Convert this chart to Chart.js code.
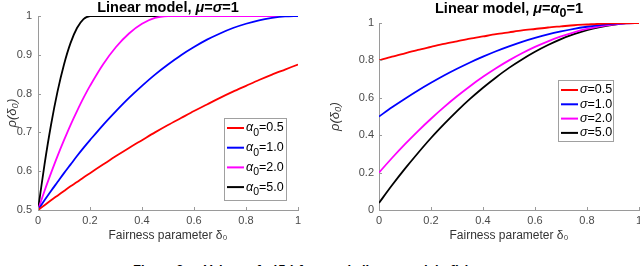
<!DOCTYPE html>
<html>
<head>
<meta charset="utf-8">
<script src="https://cdn.jsdelivr.net/npm/chart.js@4"></script>
<style>
  html, body { margin: 0; padding: 0; background: #fff; width: 640px; height: 266px; overflow: hidden; }
  .box { position: absolute; top: 0; height: 250px; }
  #caption { position: absolute; left: 133px; top: 262px; font: bold 13px "Liberation Sans", Arial, sans-serif; color: #000; white-space: nowrap; }
</style>
</head>
<body>
<div class="box" style="left:0;width:310px"><canvas id="left"></canvas></div>
<div class="box" style="left:320px;width:320px"><canvas id="right"></canvas></div>
<div id="caption">Figure 2 — Values of <i>ρ</i>(<i>δ</i>₀) for purely linear models <i>f</i>(<i>x</i>) = <i>αx</i></div>
<script>
// abscisses (paramètre delta0)
const deltaLeft = [0, 0.025, 0.05, 0.075, 0.1, 0.125, 0.15, 0.175, 0.2, 0.25, 0.3, 0.35, 0.4,
  0.45, 0.5, 0.55, 0.6, 0.65, 0.7, 0.75, 0.8, 0.85, 0.9, 0.95, 1];
const deltaRight = [0, 0.05, 0.1, 0.15, 0.2, 0.25, 0.3, 0.35, 0.4, 0.45, 0.5, 0.55, 0.6, 0.65,
  0.7, 0.75, 0.8, 0.85, 0.9, 0.95, 1];

// gauche : mu = sigma = 1, alpha0 variable
const alphaLabels = ["0.5", "1.0", "2.0", "5.0"];
const rhoAlpha05 = [0.5, 0.512, 0.525, 0.537, 0.549, 0.561, 0.572, 0.584, 0.595, 0.617, 0.639,
  0.66, 0.68, 0.7, 0.719, 0.737, 0.755, 0.772, 0.789, 0.805, 0.82, 0.835, 0.849, 0.862, 0.875];
const rhoAlpha1 = [0.5, 0.525, 0.549, 0.572, 0.595, 0.617, 0.639, 0.66, 0.68, 0.719, 0.755,
  0.789, 0.82, 0.849, 0.875, 0.899, 0.92, 0.939, 0.955, 0.969, 0.98, 0.989, 0.995, 0.999, 1];
const rhoAlpha2 = [0.5, 0.549, 0.595, 0.639, 0.68, 0.719, 0.755, 0.789, 0.82, 0.875, 0.92,
  0.955, 0.98, 0.995, 1, 1, 1, 1, 1, 1, 1, 1, 1, 1, 1];
const rhoAlpha5 = [0.5, 0.617, 0.719, 0.805, 0.875, 0.93, 0.969, 0.992, 1, 1, 1,
  1, 1, 1, 1, 1, 1, 1, 1, 1, 1, 1, 1, 1, 1];

// droite : mu = alpha0 = 1, sigma variable
const sigmaLabels = ["0.5", "1.0", "2.0", "5.0"];
const rhoSigma05 = [0.8, 0.82, 0.838, 0.856, 0.872, 0.888, 0.902, 0.916, 0.928, 0.94, 0.95,
  0.96, 0.968, 0.976, 0.982, 0.988, 0.992, 0.996, 0.998, 0.9995, 1];
const rhoSigma1 = [0.5, 0.549, 0.595, 0.639, 0.68, 0.719, 0.755, 0.789, 0.82, 0.849, 0.875,
  0.899, 0.92, 0.939, 0.955, 0.969, 0.98, 0.989, 0.995, 0.999, 1];
const rhoSigma2 = [0.2, 0.278, 0.352, 0.422, 0.488, 0.55, 0.608, 0.662, 0.712, 0.758, 0.8,
  0.838, 0.872, 0.902, 0.928, 0.95, 0.968, 0.982, 0.992, 0.998, 1];
const rhoSigma5 = [0.038, 0.132, 0.221, 0.305, 0.385, 0.459, 0.529, 0.594, 0.654, 0.709, 0.76,
  0.805, 0.846, 0.882, 0.914, 0.94, 0.962, 0.978, 0.99, 0.998, 1];

const colors = ["#ff0000", "#0000ff", "#ff00ff", "#000000"];
const FONT = "'Liberation Sans', Arial, sans-serif";
const AXIS = "#9a9a9a";
const TICKTXT = "#4a4a4a";

function makeDatasets(xs, series) {
  return series.map((ys, i) => ({
    data: xs.map((x, j) => ({ x: x, y: ys[j] })),
    borderColor: colors[i],
    borderWidth: 1.8,
    pointRadius: 0,
    tension: 0.3,
    fill: false,
  }));
}

// texte avec morceaux en italique / indice
function drawParts(ctx, parts, x, y, size, weight) {
  let tx = x;
  parts.forEach((p) => {
    const sz = p.sub ? size - 2 : size;
    ctx.font = (p.it ? "italic " : "") + weight + " " + sz + "px " + FONT;
    ctx.fillText(p.t, tx, p.sub ? y + 5 : y);
    tx += ctx.measureText(p.t).width;
  });
  return tx - x;
}

// titre centré sur la zone du tracé, graduations intérieures, légende encadrée
const matlabPlugin = {
  id: "matlab",
  afterDraw(chart, args, opts) {
    const ctx = chart.ctx;
    const xs = chart.scales.x, ys = chart.scales.y;
    const area = chart.chartArea;
    ctx.save();
    ctx.strokeStyle = AXIS;
    ctx.lineWidth = 1;
    ctx.beginPath();
    xs.ticks.forEach((t) => {
      const px = Math.round(xs.getPixelForValue(t.value)) + 0.5;
      ctx.moveTo(px, area.bottom);
      ctx.lineTo(px, area.bottom - 3);
    });
    ys.ticks.forEach((t) => {
      const py = Math.round(ys.getPixelForValue(t.value)) + 0.5;
      ctx.moveTo(area.left, py);
      ctx.lineTo(area.left + 3, py);
    });
    ctx.stroke();

    // titre
    ctx.textBaseline = "middle";
    ctx.textAlign = "left";
    ctx.fillStyle = "#000";
    ctx.globalAlpha = 0;
    const w = drawParts(ctx, opts.title, 0, 0, opts.titleSize, "bold");
    ctx.globalAlpha = 1;
    drawParts(ctx, opts.title, (area.left + area.right) / 2 - w / 2, opts.titleY, opts.titleSize, "bold");

    // légende
    const lg = opts.legend;
    const bx = area.right - lg.right - lg.width;
    const by = lg.top != null ? area.top + lg.top : area.bottom - lg.bottom - lg.height;
    ctx.fillStyle = "#fff";
    ctx.fillRect(bx, by, lg.width, lg.height);
    ctx.strokeStyle = "#a0a0a0";
    ctx.strokeRect(Math.round(bx) + 0.5, Math.round(by) + 0.5, lg.width, lg.height);
    lg.items.forEach((label, i) => {
      const cy = by + lg.first + i * lg.step;
      ctx.strokeStyle = colors[i];
      ctx.lineWidth = 2;
      ctx.beginPath();
      ctx.moveTo(bx + 3, cy);
      ctx.lineTo(bx + 20, cy);
      ctx.stroke();
      ctx.fillStyle = "#000";
      const parts = [{ t: lg.symbol, it: true }];
      if (lg.sub) parts.push({ t: "0", sub: true });
      parts.push({ t: "=" + label });
      drawParts(ctx, parts, bx + 22, cy, 12.5, "normal");
    });
    ctx.restore();
  },
};

function makeChart(id, cfg) {
  return new Chart(document.getElementById(id), {
    type: "line",
    data: { datasets: makeDatasets(cfg.xs, cfg.series) },
    plugins: [matlabPlugin],
    options: {
      responsive: true,
      maintainAspectRatio: false,
      animation: false,
      layout: { padding: { left: 0, right: cfg.padRight, top: cfg.padTop, bottom: 0 } },
      plugins: {
        legend: { display: false },
        tooltip: { enabled: false },
        title: { display: false },
        matlab: { legend: cfg.legend, title: cfg.title, titleY: cfg.titleY, titleSize: cfg.titleSize },
      },
      scales: {
        x: {
          type: "linear",
          min: 0,
          max: 1,
          afterFit: (s) => { s.height = 40; s.paddingLeft = 0; s.paddingRight = 0; },
          ticks: {
            stepSize: 0.2,
            padding: 4,
            color: TICKTXT,
            font: { family: FONT, size: 11 },
            maxRotation: 0,
            callback: (v) => String(+v.toFixed(2)),
          },
          grid: { display: false, drawTicks: false },
          border: { display: true, color: AXIS, width: 1 },
          title: {
            display: true,
            text: "Fairness parameter δ₀",
            color: "#333",
            font: { family: FONT, size: 12 },
            padding: { top: 0, bottom: 7 },
          },
        },
        y: {
          min: cfg.yMin,
          max: 1,
          afterFit: (s) => { s.width = cfg.yWidth; s.paddingTop = 0; s.paddingBottom = 0; },
          ticks: {
            stepSize: cfg.yStep,
            padding: cfg.yTickPad,
            color: TICKTXT,
            font: { family: FONT, size: 11 },
            callback: (v) => String(+v.toFixed(2)),
          },
          grid: { display: false, drawTicks: false },
          border: { display: true, color: AXIS, width: 1 },
          title: {
            display: true,
            text: "ρ(δ₀)",
            color: "#333",
            font: { family: FONT, size: 13, style: "italic" },
            padding: { top: cfg.yTitlePad, bottom: 0 },
          },
        },
      },
    },
  });
}

makeChart("left", {
  xs: deltaLeft,
  series: [rhoAlpha05, rhoAlpha1, rhoAlpha2, rhoAlpha5],
  title: [{ t: "Linear model, " }, { t: "μ", it: true }, { t: "=" }, { t: "σ", it: true }, { t: "=1" }],
  titleSize: 14.5,
  titleY: 7.5,
  padTop: 16,
  padRight: 12,
  yMin: 0.5,
  yStep: 0.1,
  yWidth: 38,
  yTickPad: 6,
  yTitlePad: 5,
  legend: { items: alphaLabels, symbol: "α", sub: true, right: 12, bottom: 10,
    width: 62, height: 82, first: 10, step: 19.7 },
});

makeChart("right", {
  xs: deltaRight,
  series: [rhoSigma05, rhoSigma1, rhoSigma2, rhoSigma5],
  title: [{ t: "Linear model, " }, { t: "μ", it: true }, { t: "=" }, { t: "α", it: true },
    { t: "0", sub: true }, { t: "=1" }],
  titleSize: 14.5,
  titleY: 9,
  padTop: 23,
  padRight: 1,
  yMin: 0,
  yStep: 0.2,
  yWidth: 59,
  yTickPad: 5,
  yTitlePad: 8,
  legend: { items: sigmaLabels, symbol: "σ", sub: false, right: 26, top: 57,
    width: 55, height: 61, first: 10, step: 14.3 },
});
</script>
</body>
</html>
